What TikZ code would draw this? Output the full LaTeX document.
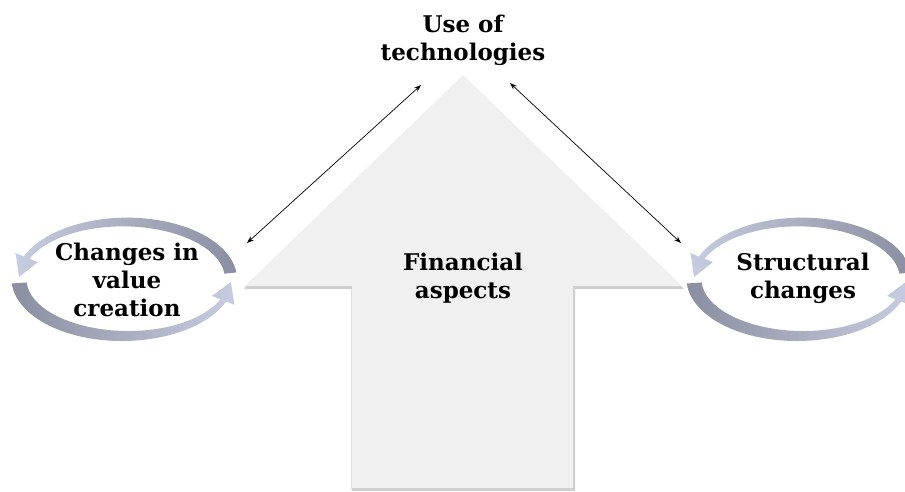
\documentclass[tikz,border=0pt]{standalone}
\usepackage{fontspec}
\setmainfont{DejaVu Serif}
\usetikzlibrary{arrows.meta}
\definecolor{cycdark}{RGB}{138,142,160}
\definecolor{cyclight}{RGB}{200,204,224}
\definecolor{bigfill}{RGB}{240,240,240}
\newcommand\cyclerings[2]{%
  % top arc: thick at right, arrow head at left
  \path[left color=cyclight, right color=cycdark]
    plot[domain=6:158, samples=50, variable=\t]
      ({#1+(106+(12-6*(\t-6)/152)/2)*cos(\t)}, {#2-(57+(12-6*(\t-6)/152)/2)*sin(\t)})
    -- ({#1+(106+12)*cos(158)}, {#2-(57+12)*sin(158)})
    -- ({#1+106*cos(178)}, {#2-57*sin(178)})
    -- ({#1+(106-12)*cos(158)}, {#2-(57-12)*sin(158)})
    -- plot[domain=158:6, samples=50, variable=\t]
      ({#1+(106-(12-6*(\t-6)/152)/2)*cos(\t)}, {#2-(57-(12-6*(\t-6)/152)/2)*sin(\t)})
    -- cycle;
  % bottom arc: thick at left, arrow head at right
  \path[left color=cycdark, right color=cyclight]
    plot[domain=176:22, samples=50, variable=\t]
      ({#1+(106+(15-9*(176-\t)/154)/2)*cos(\t)}, {#2+(57+(15-9*(176-\t)/154)/2)*sin(\t)})
    -- ({#1+(106+12)*cos(22)}, {#2+(57+12)*sin(22)})
    -- ({#1+106*cos(3)}, {#2+57*sin(3)})
    -- ({#1+(106-12)*cos(22)}, {#2+(57-12)*sin(22)})
    -- plot[domain=22:176, samples=50, variable=\t]
      ({#1+(106-(15-9*(176-\t)/154)/2)*cos(\t)}, {#2+(57-(15-9*(176-\t)/154)/2)*sin(\t)})
    -- cycle;
}
\begin{document}
\begin{tikzpicture}[x=1pt,y=-1pt,
  lbl/.style={font=\fontsize{23}{28}\selectfont\bfseries, align=center, inner sep=0pt, text=black},
  link/.style={{Stealth[length=7pt,width=5pt]}-{Stealth[length=7pt,width=5pt]}, line width=0.7pt, black}]
\useasboundingbox[fill=white] (0,0) rectangle (905,491);
% big arrow shadow
\fill[black!30, opacity=0.6] (463,77) -- (684,289) -- (575,289) -- (575,491) -- (352,491) -- (352,289) -- (244,289) -- cycle;
\fill[black!20, opacity=0.6] (463,76) -- (683,287.5) -- (574,287.5) -- (574,489.5) -- (351,489.5) -- (351,287.5) -- (244,287.5) -- cycle;
% big arrow
\fill[bigfill] (463,75) -- (682,286) -- (573,286) -- (573,488) -- (352,488) -- (352,286) -- (245,286) -- cycle;
% cycles
\cyclerings{125}{279}
\cyclerings{800}{279}
% texts
\node[lbl] (tech) at (463,40) {Use of\\technologies};
\node[lbl] (fin) at (463,278) {Financial\\aspects};
\node[lbl] (val) at (127,280) {Changes in\\value\\creation};
\node[lbl] (str) at (803,278) {Structural\\changes};
% connectors
\coordinate (tl) at (421,85);
\coordinate (vl) at (247,243);
\coordinate (tr) at (510,83);
\coordinate (sr) at (681,243);
\draw[link] (vl) -- (tl);
\draw[link] (tr) -- (sr);
\end{tikzpicture}
\end{document}
